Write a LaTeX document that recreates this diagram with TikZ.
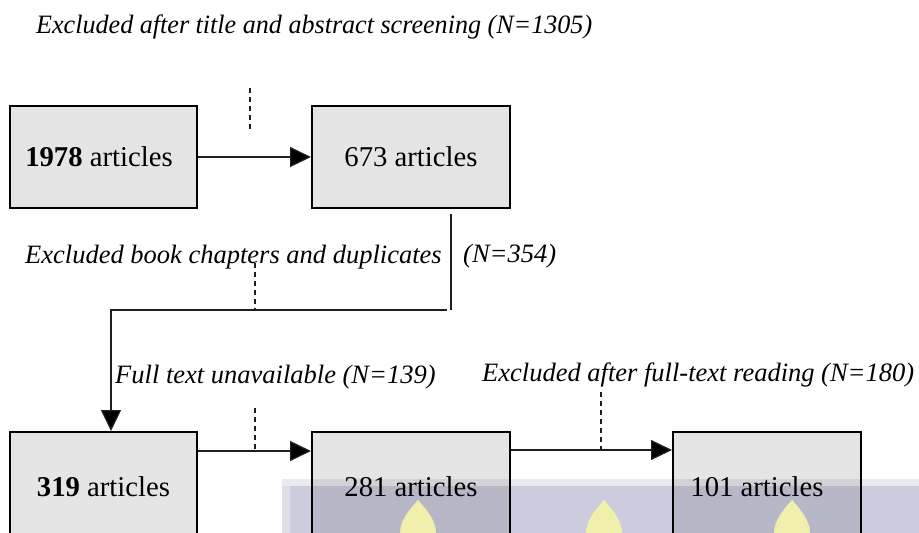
\documentclass[tikz,border=0pt]{standalone}
\usepackage{fontspec}
\setmainfont{Liberation Serif}
\usetikzlibrary{arrows.meta,calc}

\definecolor{boxgray}{RGB}{229,229,229}
\definecolor{linegray}{RGB}{30,30,30}
\definecolor{bandlav}{RGB}{204,204,222}
\definecolor{bandlight}{RGB}{234,234,241}
\definecolor{bandedge}{RGB}{222,222,234}
\definecolor{flame}{RGB}{240,240,172}

\tikzset{
  flowtip/.tip={Triangle[length=21pt,width=20pt,fill=black]},
  stagebox/.style={draw=black, line width=2pt, fill=boxgray, inner sep=0pt,
    font=\fontsize{28.7}{32}\selectfont},
  note/.style={anchor=west, inner sep=0pt, font=\fontsize{26.5}{30}\selectfont\itshape},
  link/.style={draw=linegray, line width=1.3pt},
  flow/.style={link, -flowtip},
  exclude/.style={draw=linegray, line width=1.1pt, dash pattern=on 5pt off 4pt}
}

\begin{document}
\begin{tikzpicture}[x=1pt,y=-1pt]

\useasboundingbox (0,0) rectangle (919,533);
\clip (0,0) rectangle (919,533);
\fill[white] (0,0) rectangle (919,533);

% stage boxes
\node[stagebox, minimum width=187pt, minimum height=102pt] (b1) at (103.5,157)
  {\textbf{1978} articles\hspace*{9pt}};
\node[stagebox, minimum width=198pt, minimum height=102pt] (b2) at (411,157)
  {673 articles};
\node[stagebox, minimum width=187pt, minimum height=110pt] (b3) at (103.5,487)
  {\textbf{319} articles};
\node[stagebox, minimum width=198pt, minimum height=110pt] (b4) at (411,487)
  {281 articles};
\node[stagebox, minimum width=188pt, minimum height=110pt] (b5) at (767,487)
  {101 articles\hspace*{20pt}};

% exclusion notes
\node[note, font=\fontsize{26.5}{30}\selectfont\itshape\addfontfeature{FakeStretch=0.985}] (n1) at (36,27)
  {Excluded after title and abstract screening (N=1305)};
\node[note] (n2) at (25,257) {Excluded book chapters and duplicates};
\node[note] (n3) at (463,256) {(N=354)};
\node[note] (n4) at (115,377) {Full text unavailable (N=139)};
\node[note] (n5) at (482,375) {Excluded after full-text reading (N=180)};

% main flow
\draw[flow] (b1.east) -- (b2.west);
\draw[link] ([xshift=40pt,yshift=-5pt]b2.south) -- ++(0,96) coordinate (bend);
\draw[flow] ([xshift=-4pt]bend) -| ([xshift=7.5pt]b3.north);
\draw[flow] ([yshift=-20pt]b3.north east) coordinate (a34) -- ([yshift=-20pt]b4.north west);
\draw[flow] ([yshift=-19pt]b4.north east) coordinate (a45) -- ([yshift=-19pt]b5.north west);

% dashed exclusion ticks
\coordinate (d1a) at (250,88);
\coordinate (d1b) at (250,133);
\coordinate (d2) at (255,263);
\coordinate (d3) at (255,408);
\coordinate (d4) at (601,392);
\draw[exclude] (d1a) -- (d1b);
\draw[exclude] (d2) -- (d2 |- bend);
\draw[exclude] (d3) -- (d3 |- a34);
\draw[exclude] (d4) -- (d4 |- a45);

% tinted band along the lower edge
\begin{scope}[blend mode=multiply]
  \fill[bandlight] (282,479) rectangle (919,486);
  \fill[bandedge] (282,486) rectangle (290,533);
  \fill[bandlav] (290,486) rectangle (919,533);
\end{scope}

% pale flame shapes in the band
\foreach \fx in {418,604,792}{
  \fill[flame] (\fx,500) .. controls (\fx+6,507) and (\fx+18,519) .. (\fx+18,533)
    -- (\fx-18,533) .. controls (\fx-18,519) and (\fx-6,507) .. cycle;
}
\end{tikzpicture}
\end{document}
